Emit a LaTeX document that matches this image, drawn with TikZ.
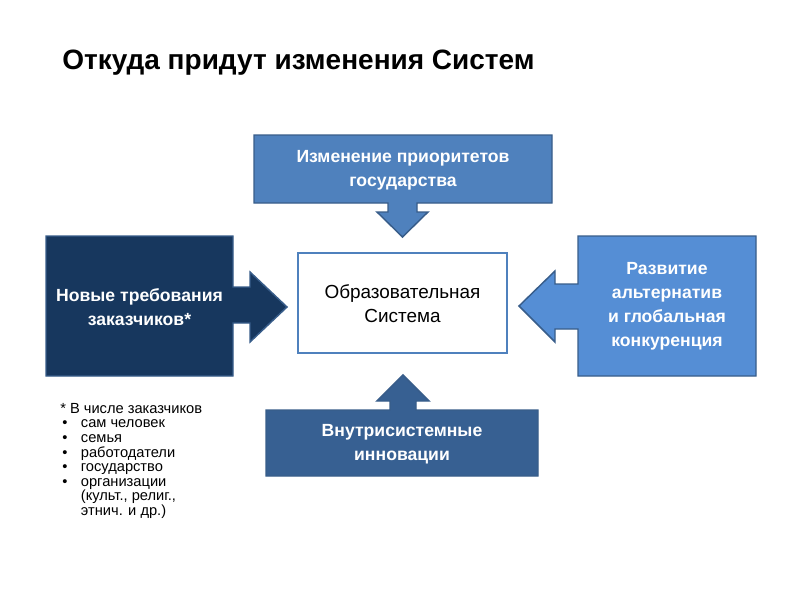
\documentclass[tikz,border=0pt]{standalone}
\usepackage{fontspec}
\setmainfont{Liberation Sans}
\definecolor{cnavy}{HTML}{17375E}
\definecolor{ctop}{HTML}{4F81BD}
\definecolor{cright}{HTML}{558ED5}
\definecolor{cbottom}{HTML}{376092}
\definecolor{coutline}{HTML}{385D8A}
\definecolor{ccenter}{HTML}{4F81BD}
\begin{document}
\begin{tikzpicture}[x=0.75pt,y=-0.75pt,
  callout/.style={draw=coutline, line width=1.1pt, line join=miter},
  boxtext/.style={text=white, font=\fontsize{13.2}{18}\selectfont\bfseries, align=center, inner sep=0pt},
  centertext/.style={text=black, font=\fontsize{14.2}{18}\selectfont, align=center, inner sep=0pt}]
\useasboundingbox (0,0) rectangle (800,600);
\fill[white] (0,0) rectangle (800,600);

% title
\node[anchor=base west, inner sep=0pt, font=\fontsize{21}{24}\selectfont\bfseries] (title) at (62,69) {Откуда придут изменения Систем};

% left callout
\path[callout, fill=cnavy] (46,236) -- (233,236) -- (233,287) -- (250,287) -- (250,272) -- (287,307)
  -- (250,342) -- (250,323) -- (233,323) -- (233,376) -- (46,376) -- cycle;
\node[boxtext] (left) at (139.5,307) {Новые требования\\заказчиков*};

% top callout
\path[callout, fill=ctop] (254,135) -- (552,135) -- (552,203) -- (417,203) -- (417,212) -- (428,212)
  -- (402.5,237) -- (377,212) -- (388,212) -- (388,203) -- (254,203) -- cycle;
\node[boxtext] (top) at (403,170) {Изменение приоритетов\\государства};

% right callout
\path[callout, fill=cright] (578,236) -- (756,236) -- (756,376) -- (578,376) -- (578,329) -- (555,329)
  -- (555,342) -- (519,306) -- (555,271) -- (555,284) -- (578,284) -- cycle;
\node[boxtext] (right) at (667,306) {Развитие\\альтернатив\\и глобальная\\конкуренция};

% bottom callout
\path[callout, fill=cbottom] (266,410) -- (390,410) -- (390,401) -- (377,401) -- (403,375) -- (429,401)
  -- (416,401) -- (416,410) -- (538,410) -- (538,476) -- (266,476) -- cycle;
\node[boxtext] (bottom) at (402,444) {Внутрисистемные\\инновации};

% center box
\draw[draw=ccenter, line width=1.1pt, fill=white] (298,253) rectangle (507,353);
\node[centertext] (center) at (402.5,304) {Образовательная\\Система};

% footnote
\node[anchor=north west, inner sep=0pt, align=left, font=\fontsize{11}{10.95}\selectfont] (note) at (60,403)
 {* В числе заказчиков\\
  \hspace*{1.5pt}\makebox[14pt][l]{•}сам человек\\
  \hspace*{1.5pt}\makebox[14pt][l]{•}семья\\
  \hspace*{1.5pt}\makebox[14pt][l]{•}работодатели\\
  \hspace*{1.5pt}\makebox[14pt][l]{•}государство\\
  \hspace*{1.5pt}\makebox[14pt][l]{•}организации\\
  \hspace*{15.5pt}(культ., религ.,\\
  \hspace*{15.5pt}этнич. и др.)};
\end{tikzpicture}
\end{document}
